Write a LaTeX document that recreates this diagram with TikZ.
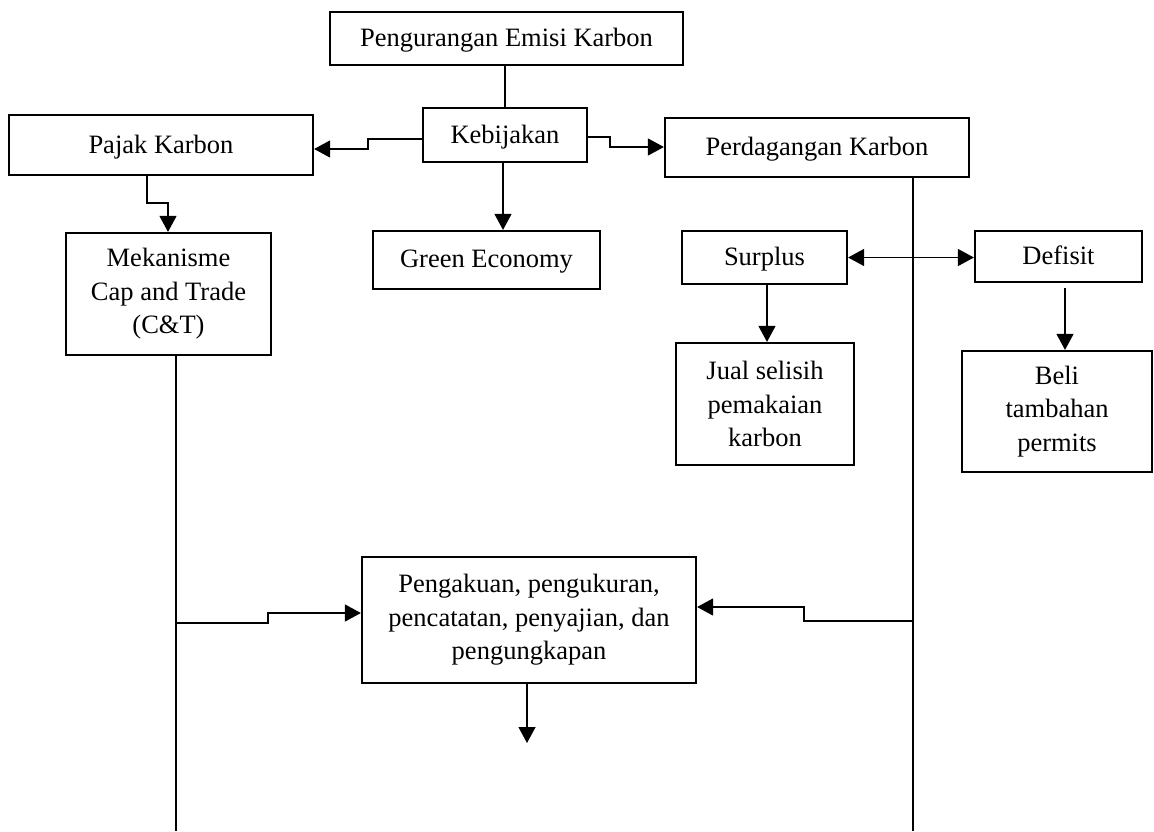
\documentclass[tikz,border=0pt]{standalone}
\usepackage{fontspec}
\setmainfont{Liberation Serif}
\usetikzlibrary{arrows.meta}
\begin{document}
\begin{tikzpicture}[x=1pt,y=-1pt,
  box/.style={draw, line width=2.2pt, inner sep=0pt, align=center,
    font=\fontsize{26.5}{33.5}\selectfont},
  onebox/.style={box, text depth=2pt},
  conn/.style={line width=1.2pt},
  tip/.tip={Triangle[length=16pt,width=17pt]},
  arr/.style={conn, -tip},
  darr/.style={conn, tip-tip}]
\useasboundingbox (0,0) rectangle (1154,831);
\fill[white] (0,0) rectangle (1154,831);
% boxes (centre, size)
\node[onebox, minimum width=353pt, minimum height=53pt] (top) at (506.5,38.5) {Pengurangan Emisi Karbon};
\node[onebox, minimum width=164pt, minimum height=54pt] (keb) at (505,135) {Kebijakan};
\node[onebox, minimum width=304pt, minimum height=60pt] (pajak) at (161,145) {Pajak Karbon};
\node[onebox, minimum width=304pt, minimum height=59pt] (perd) at (817,147.5) {Perdagangan Karbon};
\node[box, minimum width=205pt, minimum height=122pt] (mek) at (168.5,294) {Mekanisme\\Cap and Trade\\(C\&T)};
\node[onebox, minimum width=227pt, minimum height=58pt] (green) at (486.5,260) {Green Economy};
\node[onebox, minimum width=165pt, minimum height=53pt] (surplus) at (764.5,257.5) {Surplus};
\node[onebox, minimum width=167pt, minimum height=51pt] (defisit) at (1058.5,256.5) {Defisit};
\node[box, minimum width=178pt, minimum height=122pt] (jual) at (765,404) {Jual selisih\\pemakaian\\karbon};
\node[box, minimum width=190pt, minimum height=121pt] (beli) at (1057,411.5) {Beli\\tambahan\\permits};
\node[box, minimum width=334pt, minimum height=126pt] (peng) at (529,620) {Pengakuan, pengukuran,\\pencatatan, penyajian, dan\\pengungkapan};
% helper coordinates
\coordinate (kl1) at (368,139);
\coordinate (kl2) at (368,149);
\coordinate (kr1) at (610,137);
\coordinate (kr2) at (610,147);
\coordinate (pm1) at (147,203);
\coordinate (pm2) at (168,203);
\coordinate (mekend) at (176,831);
\coordinate (perdend) at (913,831);
\coordinate (la) at (176,623);
\coordinate (lb) at (268,623);
\coordinate (lc) at (268,613);
\coordinate (ra) at (913,621);
\coordinate (rb) at (804,621);
\coordinate (rc) at (804,607);
\coordinate (pend) at (527,743);
% connectors
\draw[conn] (top.south -| 505,0) -- (keb.north -| 505,0);
\draw[arr] (keb.west |- kl1) -- (kl1) -- (kl2) -- (pajak.east |- kl2);
\draw[arr] (keb.east |- kr1) -- (kr1) -- (kr2) -- (perd.west |- kr2);
\draw[arr] (keb.south -| 503,0) -- (green.north -| 503,0);
\draw[arr] (pajak.south -| pm1) -- (pm1) -- (pm2) -- (mek.north -| pm2);
\draw[conn] (mek.south -| mekend) -- (mekend);
\draw[conn] (perd.south -| perdend) -- (perdend);
\draw[darr] (surplus.east) -- (defisit.west |- surplus.east);
\draw[arr] (surplus.south -| 767,0) -- (jual.north -| 767,0);
\draw[arr] ([yshift=-5pt]defisit.south -| 1065,0) -- (beli.north -| 1065,0);
\draw[arr] (la) -- (lb) -- (lc) -- (peng.west |- lc);
\draw[arr] (ra) -- (rb) -- (rc) -- (peng.east |- rc);
\draw[arr] (peng.south -| pend) -- (pend);
\end{tikzpicture}
\end{document}
